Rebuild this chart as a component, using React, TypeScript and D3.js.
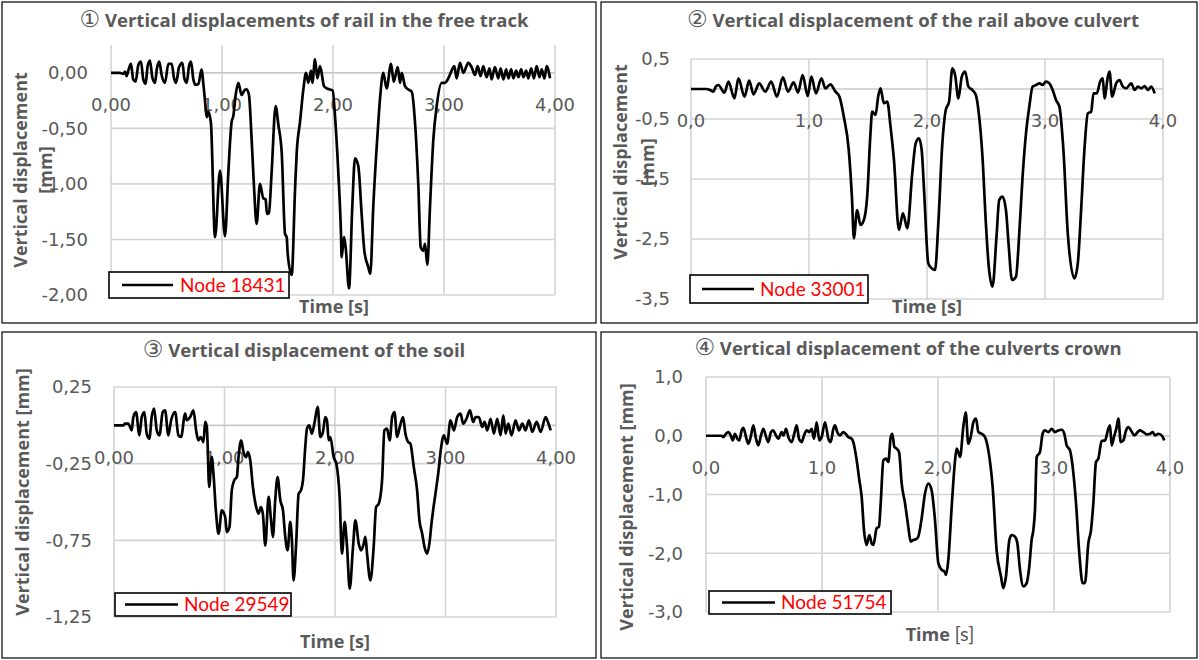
import React from "react";
import * as d3 from "d3";

type Pt = [number, number];

// time axis (s)
const timeTicks = [0, 1, 2, 3, 4];

// displacement series: [time s, displacement mm]
const node18431: Pt[] = [
  [0, 0], [0.08, 0], [0.11, -0.01], [0.126, 0.01], [0.141, -0.03], [0.156, 0.02], [0.18, 0.08], [0.2, -0.06],
  [0.222, -0.08], [0.246, 0.07], [0.27, 0.1], [0.291, -0.06], [0.312, -0.1], [0.33, 0.06], [0.351, 0.11],
  [0.372, -0.04], [0.396, -0.09], [0.414, 0.04], [0.435, 0.1], [0.456, -0.02], [0.486, -0.09], [0.517, 0.08],
  [0.547, 0.08], [0.568, -0.05], [0.586, -0.09], [0.613, 0.05], [0.643, 0.09], [0.661, -0.05], [0.682, -0.09],
  [0.703, 0.06], [0.721, 0.1], [0.742, -0.06], [0.763, -0.11], [0.787, -0.1], [0.817, 0.03], [0.832, -0.1],
  [0.847, -0.25], [0.862, -0.4], [0.877, -0.35], [0.9, -0.45], [0.937, -1.48], [0.982, -0.88], [1.027, -1.47],
  [1.057, -0.9], [1.087, -0.44], [1.102, -0.39], [1.123, -0.2], [1.147, -0.09], [1.177, -0.2], [1.201, -0.16],
  [1.222, -0.15], [1.243, -0.2], [1.267, -0.6], [1.288, -1.02], [1.312, -1.36], [1.342, -1.0], [1.372, -1.13],
  [1.393, -1.14], [1.405, -1.27], [1.423, -1.26], [1.447, -0.9], [1.483, -0.3], [1.508, -0.47], [1.538, -0.72],
  [1.568, -1.45], [1.583, -1.48], [1.592, -1.63], [1.628, -1.82], [1.658, -1.05], [1.673, -0.72], [1.703, -0.44],
  [1.733, -0.15], [1.757, 0], [1.778, -0.09], [1.802, 0.02], [1.814, -0.09], [1.838, 0.12], [1.859, -0.05],
  [1.883, 0.06], [1.919, -0.12], [1.943, -0.14], [1.973, -0.15], [1.997, -0.16], [2.018, -0.39], [2.048, -0.9],
  [2.072, -1.45], [2.078, -1.66], [2.099, -1.48], [2.114, -1.57], [2.144, -1.94], [2.174, -1.2], [2.198, -0.77],
  [2.228, -0.84], [2.258, -1.27], [2.282, -1.6], [2.318, -1.75], [2.336, -1.81], [2.363, -1.2], [2.402, -0.54],
  [2.423, -0.24], [2.453, 0], [2.483, -0.14], [2.523, 0.08], [2.547, -0.08], [2.583, 0.05], [2.604, -0.09],
  [2.619, 0], [2.649, -0.12], [2.679, -0.15], [2.709, -0.17], [2.739, -0.45], [2.769, -1.02], [2.79, -1.57],
  [2.814, -1.6], [2.829, -1.54], [2.85, -1.73], [2.874, -1.2], [2.904, -0.6], [2.934, -0.3], [2.979, -0.09],
  [3.009, -0.09], [3.039, -0.05], [3.069, 0.02], [3.093, 0.06], [3.114, -0.05], [3.144, 0.09], [3.174, 0],
  [3.219, 0.09], [3.249, 0.05], [3.28, -0.02], [3.303, 0.06], [3.33, -0.03], [3.354, 0.06], [3.384, -0.04],
  [3.41, 0.04], [3.429, -0.06], [3.459, 0.05], [3.489, -0.05], [3.51, 0.04], [3.535, -0.06], [3.56, 0.03],
  [3.58, -0.05], [3.605, 0.03], [3.625, -0.05], [3.65, 0.02], [3.67, -0.04], [3.695, 0.03], [3.715, -0.04],
  [3.74, 0.02], [3.76, -0.05], [3.785, 0.04], [3.81, -0.05], [3.835, 0.06], [3.86, -0.04], [3.88, 0.03],
  [3.905, -0.05], [3.925, 0.06], [3.955, -0.05],
];

const node33001: Pt[] = [
  [0, 0], [0.133, 0], [0.161, -0.017], [0.19, -0.044], [0.21, 0.039], [0.232, 0.067], [0.283, -0.061],
  [0.317, 0.122], [0.368, -0.156], [0.402, 0.178], [0.453, -0.128], [0.493, 0.139], [0.53, -0.089], [0.578, 0.094],
  [0.629, -0.044], [0.68, 0.122], [0.728, -0.128], [0.779, 0.194], [0.822, -0.044], [0.87, 0.111], [0.907, -0.061],
  [0.946, 0.233], [0.989, -0.117], [1.02, 0.206], [1.059, -0.072], [1.105, 0.178], [1.139, 0.011], [1.181, 0.078],
  [1.224, -0.044], [1.258, -0.128], [1.295, -0.461], [1.337, -1.017], [1.365, -1.85], [1.38, -2.489],
  [1.408, -2.017], [1.436, -2.267], [1.465, -2.183], [1.493, -1.794], [1.521, -0.739], [1.535, -0.378],
  [1.564, -0.433], [1.586, -0.128], [1.606, 0.011], [1.635, -0.239], [1.663, -0.211], [1.691, -0.628],
  [1.72, -1.183], [1.762, -2.35], [1.796, -2.072], [1.833, -2.322], [1.875, -1.406], [1.904, -0.906],
  [1.932, -0.822], [1.955, -1.017], [1.975, -1.683], [2.011, -2.906], [2.04, -2.989], [2.068, -3.017],
  [2.096, -2.239], [2.13, -0.906], [2.159, -0.35], [2.187, -0.211], [2.215, 0.344], [2.238, 0.233],
  [2.266, -0.156], [2.295, 0.206], [2.323, 0.289], [2.351, 0.039], [2.385, -0.017], [2.414, -0.1], [2.442, -0.461],
  [2.47, -1.128], [2.499, -2.239], [2.521, -2.906], [2.555, -3.294], [2.589, -2.461], [2.612, -1.85],
  [2.64, -1.794], [2.669, -2.017], [2.691, -2.572], [2.72, -3.183], [2.754, -3.128], [2.782, -2.406],
  [2.81, -1.461], [2.839, -0.739], [2.867, -0.294], [2.895, 0.039], [2.924, 0.067], [2.952, 0.094], [2.98, 0.067],
  [3.008, 0.122], [3.037, 0.094], [3.065, -0.017], [3.093, -0.183], [3.122, -0.294], [3.156, -1.017],
  [3.193, -2.406], [3.249, -3.156], [3.278, -2.906], [3.306, -2.017], [3.334, -1.017], [3.363, -0.406],
  [3.391, -0.378], [3.411, -0.072], [3.439, -0.072], [3.467, 0.122], [3.49, 0.178], [3.504, -0.156],
  [3.533, 0.206], [3.547, 0.289], [3.569, -0.128], [3.603, 0.094], [3.632, 0.15], [3.66, 0.039], [3.688, 0.011],
  [3.731, 0.094], [3.759, -0.017], [3.788, 0.039], [3.816, 0.011], [3.844, 0.05], [3.873, -0.017], [3.901, 0.039],
  [3.929, -0.072],
];

const node29549: Pt[] = [
  [0, 0], [0.085, 0], [0.1, 0.011], [0.13, 0.011], [0.145, -0.011], [0.16, -0.033], [0.175, 0.054], [0.199, 0.087],
  [0.23, -0.065], [0.251, 0.054], [0.275, 0.087], [0.296, -0.054], [0.32, -0.087], [0.341, 0.054], [0.363, 0.109],
  [0.387, -0.033], [0.411, -0.065], [0.441, 0.087], [0.462, 0.098], [0.492, -0.065], [0.517, 0.033], [0.553, 0.087],
  [0.583, -0.065], [0.607, -0.076], [0.644, 0.076], [0.659, 0.033], [0.689, 0.054], [0.719, 0.098], [0.743, -0.033],
  [0.764, -0.098], [0.785, -0.076], [0.81, -0.109], [0.825, 0.022], [0.84, -0.011], [0.846, -0.098],
  [0.861, -0.402], [0.885, -0.207], [0.9, -0.315], [0.924, -0.576], [0.946, -0.707], [0.976, -0.554],
  [1.006, -0.598], [1.021, -0.696], [1.045, -0.663], [1.066, -0.424], [1.088, -0.359], [1.112, -0.337],
  [1.127, -0.207], [1.151, -0.098], [1.172, -0.174], [1.196, -0.207], [1.211, -0.174], [1.233, -0.228],
  [1.257, -0.402], [1.287, -0.533], [1.308, -0.576], [1.329, -0.533], [1.347, -0.576], [1.369, -0.783],
  [1.399, -0.467], [1.42, -0.609], [1.438, -0.728], [1.459, -0.489], [1.48, -0.337], [1.505, -0.489],
  [1.529, -0.554], [1.55, -0.728], [1.571, -0.815], [1.595, -0.63], [1.61, -0.75], [1.625, -1.011],
  [1.647, -0.793], [1.671, -0.446], [1.692, -0.424], [1.71, -0.359], [1.731, -0.141], [1.746, -0.022],
  [1.767, 0], [1.791, -0.054], [1.813, 0.011], [1.843, 0.12], [1.867, -0.076], [1.891, -0.043], [1.912, 0.054],
  [1.927, 0.033], [1.943, -0.098], [1.958, -0.076], [1.988, -0.207], [2.012, -0.25], [2.042, -0.467],
  [2.063, -0.837], [2.088, -0.63], [2.109, -0.793], [2.133, -1.065], [2.163, -0.793], [2.184, -0.62],
  [2.215, -0.772], [2.236, -0.815], [2.26, -0.772], [2.275, -0.728], [2.29, -0.837], [2.32, -1.011],
  [2.35, -0.793], [2.372, -0.533], [2.396, -0.511], [2.426, -0.359], [2.447, -0.033], [2.471, -0.022],
  [2.495, -0.098], [2.517, 0.054], [2.538, 0.087], [2.562, -0.076], [2.586, -0.011], [2.616, 0.054],
  [2.637, -0.054], [2.662, -0.109], [2.683, -0.12], [2.698, -0.185], [2.713, -0.272], [2.743, -0.424],
  [2.764, -0.62], [2.789, -0.707], [2.81, -0.793], [2.834, -0.837], [2.858, -0.75], [2.873, -0.641],
  [2.888, -0.554], [2.909, -0.446], [2.934, -0.315], [2.961, -0.141], [2.985, -0.065], [3.015, -0.12],
  [3.045, 0.033], [3.076, -0.033], [3.106, 0.054], [3.136, 0.076], [3.16, 0.011], [3.19, 0.043], [3.221, 0.098],
  [3.251, 0.022], [3.272, 0.054], [3.302, 0.054], [3.332, -0.011], [3.353, 0.022], [3.378, -0.033], [3.408, 0.043],
  [3.438, -0.054], [3.468, 0.043], [3.498, -0.065], [3.523, 0.065], [3.544, -0.054], [3.568, 0.011],
  [3.598, -0.065], [3.634, 0.033], [3.665, -0.033], [3.695, 0.011], [3.725, -0.033], [3.755, 0.033],
  [3.785, -0.043], [3.825, 0.022], [3.861, -0.043], [3.906, 0.054], [3.927, 0.022], [3.952, -0.033],
];

const node51754: Pt[] = [
  [0, 0], [0.135, 0], [0.149, -0.023], [0.172, 0.034], [0.193, 0.062], [0.213, 0.006], [0.23, -0.079], [0.25, 0.034],
  [0.27, -0.051], [0.287, -0.079], [0.307, 0.09], [0.322, 0.136], [0.345, -0.023], [0.365, -0.136], [0.385, -0.023],
  [0.408, 0.175], [0.431, -0.051], [0.451, -0.164], [0.474, 0.006], [0.494, 0.119], [0.523, -0.051], [0.537, -0.107],
  [0.56, 0.062], [0.58, 0.09], [0.603, 0.006], [0.624, -0.051], [0.652, 0.062], [0.667, 0.006], [0.69, 0.119],
  [0.71, -0.023], [0.739, -0.107], [0.761, 0.034], [0.782, 0.175], [0.802, -0.051], [0.825, -0.107], [0.845, 0.006],
  [0.868, 0.09], [0.891, 0.062], [0.911, 0.119], [0.931, -0.051], [0.954, 0.23], [0.977, -0.079], [0.997, -0.023],
  [1.026, 0.23], [1.055, -0.051], [1.075, -0.107], [1.098, 0.119], [1.112, 0.175], [1.132, 0.062], [1.155, 0.006],
  [1.184, 0.062], [1.204, 0.034], [1.227, -0.023], [1.256, -0.051], [1.27, -0.107], [1.299, -0.418],
  [1.322, -0.757], [1.342, -1.04], [1.362, -1.605], [1.385, -1.859], [1.408, -1.689], [1.428, -1.831],
  [1.443, -1.859], [1.471, -1.576], [1.491, -1.548], [1.506, -1.153], [1.529, -0.418], [1.552, -0.39],
  [1.572, -0.446], [1.592, -0.023], [1.606, 0.034], [1.624, -0.192], [1.644, -0.22], [1.664, -0.277],
  [1.687, -0.814], [1.716, -1.153], [1.744, -1.548], [1.764, -1.802], [1.787, -1.774], [1.81, -1.763],
  [1.83, -1.718], [1.859, -1.407], [1.888, -0.983], [1.917, -0.814], [1.945, -0.927], [1.974, -1.435],
  [2.003, -2.169], [2.032, -2.282], [2.055, -2.311], [2.069, -2.367], [2.089, -2.113], [2.118, -1.209],
  [2.147, -0.418], [2.161, -0.22], [2.175, -0.277], [2.19, -0.362], [2.218, 0.147], [2.239, 0.4], [2.261, -0.136],
  [2.282, -0.023], [2.305, 0.23], [2.328, 0.29], [2.348, 0.062], [2.376, 0.034], [2.405, -0.023], [2.434, -0.249],
  [2.471, -0.87], [2.506, -1.96], [2.543, -2.395], [2.563, -2.593], [2.586, -2.395], [2.615, -1.774],
  [2.635, -1.689], [2.664, -1.718], [2.684, -1.831], [2.707, -2.282], [2.736, -2.565], [2.764, -2.508],
  [2.787, -2.226], [2.807, -1.774], [2.822, -1.605], [2.836, -1.266], [2.851, -0.362], [2.879, -0.277],
  [2.902, 0.034], [2.922, 0.09], [2.951, 0.062], [2.98, 0.119], [3.009, 0.062], [3.037, 0.09], [3.066, 0.102],
  [3.089, 0.034], [3.109, -0.164], [3.138, -0.249], [3.161, -0.531], [3.19, -1.153], [3.218, -2.0],
  [3.247, -2.508], [3.267, -2.508], [3.296, -1.831], [3.319, -1.605], [3.339, -1.153], [3.362, -0.446],
  [3.382, -0.39], [3.411, -0.09], [3.44, -0.079], [3.468, 0.119], [3.483, 0.175], [3.497, -0.164], [3.517, -0.023],
  [3.54, 0.147], [3.555, 0.29], [3.575, -0.107], [3.598, -0.079], [3.621, 0.09], [3.641, 0.147], [3.664, 0.09],
  [3.693, 0.006], [3.721, 0.062], [3.741, 0.09], [3.77, 0.062], [3.799, 0.023], [3.828, 0.034], [3.851, 0.062],
  [3.871, 0.006], [3.899, 0.034], [3.928, 0.006], [3.951, -0.079],
];

// y tick values per chart
const yTicks1 = [0, -0.5, -1, -1.5, -2];
const yTicks2 = [0.5, -0.5, -1.5, -2.5, -3.5];
const yTicks3 = [0.25, -0.25, -0.75, -1.25];
const yTicks4 = [1, 0, -1, -2, -3];

const titleNums = ["①", "②", "③", "④"];
const titles = [
  "Vertical displacements of rail in the free track",
  "Vertical displacement of the rail above culvert",
  "Vertical displacement of the soil",
  "Vertical displacement of the culverts crown",
];
const nodeNames = ["Node 18431", "Node 33001", "Node 29549", "Node 51754"];

const GRAY = "#595959";
const GRID = "#d4d4d4";
const BOLD_FONT = "'Open Sans', 'DejaVu Sans', sans-serif";
const TICK_FONT = "'DejaVu Sans', sans-serif";
const LEG_FONT = "Lato, 'DejaVu Sans', sans-serif";

const fmt = (v: number, d: number) => v.toFixed(d).replace(".", ",");

// layout of the four charts (pixel positions, kept apart from the data)
const panels = [
  {
    box: [2, 2, 594, 321], px: [111, 555], py: [45, 295], yDomain: [-2, 0.25], ticks: yTicks1, dec: 2, tickX: 88,
    title: [304, 20], yTitle: { xs: [21, 46], cy: 170 }, xTitle: [334, 307],
    legend: [109, 272, 180, 26], legLine: [122, 173], legText: 180, data: node18431,
  },
  {
    box: [601, 2, 596, 321], px: [691, 1163], py: [59, 299], yDomain: [-3.5, 0.5], ticks: yTicks2, dec: 1, tickX: 670,
    title: [913, 20], yTitle: { xs: [621, 648], cy: 162 }, xTitle: [927, 307],
    legend: [690, 275, 178, 28], legLine: [702, 754], legText: 760, data: node33001,
  },
  {
    box: [2, 332, 594, 326], px: [114, 556], py: [387, 617], yDomain: [-1.25, 0.25], ticks: yTicks3, dec: 2, tickX: 92,
    title: [304, 350], yTitle: { xs: [23], cy: 492 }, xTitle: [335, 642],
    legend: [115, 593, 176, 23], legLine: [125, 178], legText: 184, data: node29549,
  },
  {
    box: [601, 332, 596, 326], px: [706, 1170], py: [377, 612], yDomain: [-3, 1], ticks: yTicks4, dec: 1, tickX: 683,
    title: [908, 348], yTitle: { xs: [627], cy: 507 }, xTitle: [940, 635],
    legend: [709, 591, 182, 23], legLine: [722, 775], legText: 781, data: node51754,
  },
];

function Panel({ p, i }: { p: any; i: number }) {
  const x = d3.scaleLinear().domain([0, 4]).range(p.px);
  const y = d3.scaleLinear().domain(p.yDomain).range([p.py[1], p.py[0]]);
  const line = d3
    .line<Pt>()
    .x((d) => x(d[0]))
    .y((d) => y(d[1]))
    .curve(d3.curveMonotoneX);
  const yLines = p.yTitle.xs.length === 2 ? ["Vertical displacement", "[mm]"] : ["Vertical displacement [mm]"];
  const [lx, ly, lw, lh] = p.legend;

  return (
    <g>
      <rect x={p.box[0]} y={p.box[1]} width={p.box[2]} height={p.box[3]} fill="white" stroke="black" strokeWidth={1.2} />

      {/* grid */}
      {timeTicks.map((t) => (
        <line key={"v" + t} x1={x(t)} x2={x(t)} y1={p.py[0]} y2={p.py[1]} stroke={GRID} strokeWidth={1.6} />
      ))}
      {p.ticks.map((v: number) => (
        <line key={"h" + v} x1={p.px[0]} x2={p.px[1]} y1={y(v)} y2={y(v)} stroke={GRID} strokeWidth={1.6} />
      ))}
      <line x1={p.px[0]} x2={p.px[1]} y1={y(0)} y2={y(0)} stroke="#c8c8c8" strokeWidth={1.6} />

      {/* tick labels */}
      {p.ticks.map((v: number) => (
        <text key={"yt" + v} x={p.tickX} y={y(v)} dy="0.36em" textAnchor="end" fontSize={18} fill={GRAY} fontFamily={TICK_FONT}>
          {fmt(v, p.dec)}
        </text>
      ))}
      {timeTicks.map((t) => (
        <text key={"xt" + t} x={x(t)} y={y(0) + 32} dy="0.36em" textAnchor="middle" fontSize={18} fill={GRAY} fontFamily={TICK_FONT}>
          {fmt(t, p.dec)}
        </text>
      ))}

      {/* axis titles */}
      {yLines.map((s, k) => (
        <text key={"yl" + k} transform={`translate(${p.yTitle.xs[k]},${p.yTitle.cy}) rotate(-90)`} dy="0.36em"
          textAnchor="middle" fontSize={18} fontWeight="bold" fill={GRAY} fontFamily={BOLD_FONT}>
          {s}
        </text>
      ))}
      <text x={p.xTitle[0]} y={p.xTitle[1]} dy="0.36em" textAnchor="middle" fontSize={18} fontWeight="bold" fill={GRAY} fontFamily={BOLD_FONT}>
        {i === 3 ? (
          <>
            Time <tspan fontWeight="normal" fontSize={20} fontFamily={LEG_FONT}>[s]</tspan>
          </>
        ) : (
          "Time [s]"
        )}
      </text>

      <text x={p.title[0]} y={p.title[1]} dy="0.36em" textAnchor="middle" fontSize={18.5} fontWeight="bold" fill={GRAY} fontFamily={BOLD_FONT}>
        <tspan fontFamily={TICK_FONT} fontWeight="normal" fontSize={23}>{titleNums[i]}</tspan> {titles[i]}
      </text>

      {/* series */}
      <path d={line(p.data) || ""} fill="none" stroke="black" strokeWidth={2.7} strokeLinejoin="round" />

      {/* legend */}
      <rect x={lx} y={ly} width={lw} height={lh} fill="white" stroke="black" strokeWidth={1.6} />
      <line x1={p.legLine[0]} x2={p.legLine[1]} y1={ly + lh / 2} y2={ly + lh / 2} stroke="black" strokeWidth={2.7} />
      <text x={p.legText} y={ly + lh / 2} dy="0.35em" fontSize={19} fill="#ff0000" fontFamily={LEG_FONT}>
        {nodeNames[i]}
      </text>
    </g>
  );
}

export default function App() {
  return (
    <div>
      <style>{`body{margin:0}`}</style>
      <svg width={1199} height={660} style={{ display: "block", background: "white" }}>
        <rect width={1199} height={660} fill="white" />
        {panels.map((p, i) => (
          <Panel key={i} p={p} i={i} />
        ))}
      </svg>
    </div>
  );
}
